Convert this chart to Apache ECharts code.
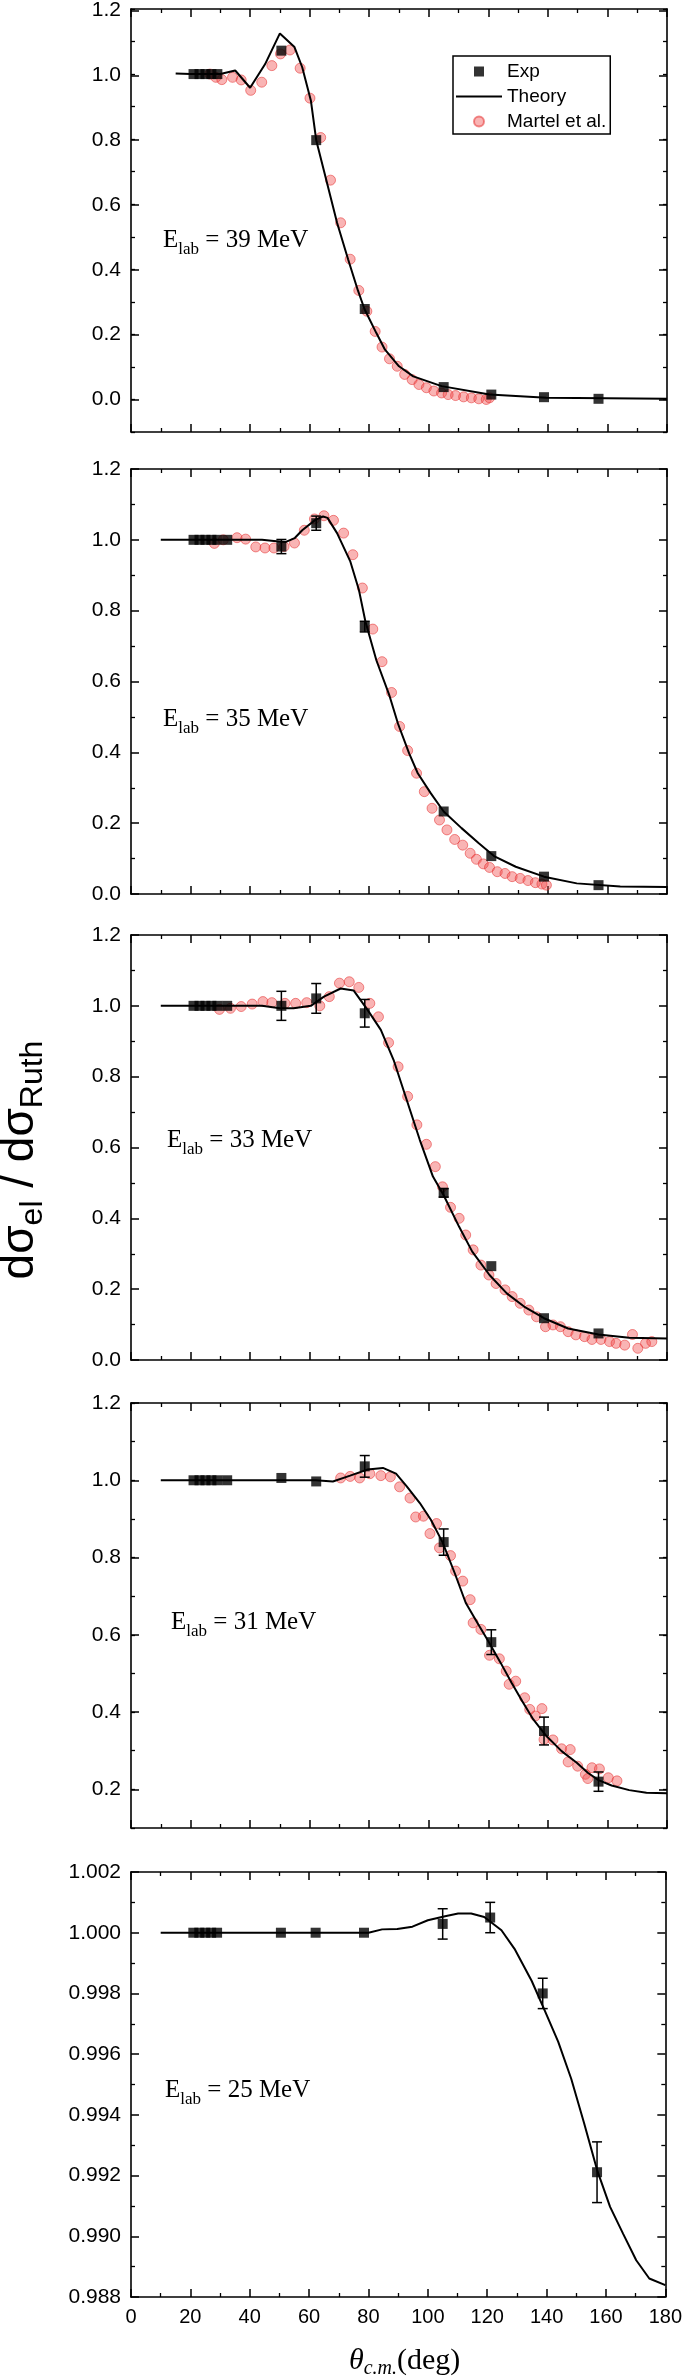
<!DOCTYPE html>
<html><head><meta charset="utf-8">
<script src="https://cdn.jsdelivr.net/npm/echarts@6/dist/echarts.min.js"></script>
<style>html,body{margin:0;padding:0;background:#fff}#c{width:685px;height:2379px}</style>
</head><body><div id="c"></div>
<script>
// ---------------- DATA ----------------
const energies = [39, 35, 33, 31, 25];

const expAnglesA = [21,23,25,27,29,50.5,62.2,78.5,105,121,138.7,157];          // 39 & 25 MeV
const expAnglesB = [21,23,25,27,29,32.3,50.5,62.2,78.5,105,121,138.7,157];     // 35, 33, 31 MeV

const exp39 = [1,1,1,1,1,1.072,0.797,0.278,0.038,0.015,0.007,0.002];
const err39 = [0,0,0,0,0,0,0,0,0,0,0,0];
const exp35 = [1,1,1,1,1,1.0,0.981,1.047,0.755,0.233,0.107,0.049,0.025];
const err35 = [0,0,0,0,0,0,0.02,0.02,0.015,0,0,0,0];
const exp33 = [1,1,1,1,1,1,1.0,1.021,0.979,0.472,0.265,0.118,0.075];
const err33 = [0,0,0,0,0,0,0.041,0.042,0.039,0.012,0,0,0];
const exp31 = [1,1,1,1,1,1,1.006,0.997,1.036,0.84,0.581,0.351,0.22];
const err31 = [0,0,0,0,0,0,0,0,0.028,0.034,0.032,0.036,0.025];
const exp25 = [1,1,1,1,1,1,1,1,1.00029,1.0005,0.998,0.99211];
const err25 = [0,0,0,0,0,0,0,0,0.0005,0.0005,0.0005,0.001];

const theory39Angles = [15,20,25,30,35,40,45,50,54.9,57.5,60.4,62.2,65.6,69.2,72.9,76.2,78.4,82.4,85.3,90,94.8,104.3,120.4,139.5,180];
const theory39Values = [1.002,1.0,1.0,1.0,1.011,0.958,1.03,1.125,1.083,1.021,0.919,0.797,0.674,0.543,0.431,0.335,0.278,0.204,0.153,0.102,0.071,0.041,0.015,0.005,0.002];
const theory35Angles = [10,30,44,48,52,55,57.5,62,64.5,66,69.2,73.6,76.5,78.7,82.4,86.8,89.7,93.4,96.3,100.7,105,111,116.8,121.9,129.2,138.7,149.7,164.3,180];
const theory35Values = [1.0,1.0,1.0,0.997,0.994,1.005,1.027,1.057,1.066,1.062,1.019,0.94,0.86,0.77,0.66,0.56,0.48,0.397,0.341,0.284,0.233,0.186,0.143,0.107,0.077,0.049,0.030,0.021,0.020];
const theory33Angles = [10,30,44,50,54.6,60.4,64.8,70.4,74.8,79.5,83.9,88.2,92.6,97,101.4,105,110.2,114.6,120.4,126.2,132,138.7,146.8,157,167.3,180];
const theory33Values = [1.0,1.0,1.0,0.993,0.993,1.0,1.026,1.049,1.043,0.988,0.932,0.847,0.734,0.621,0.518,0.465,0.376,0.306,0.24,0.188,0.151,0.118,0.089,0.072,0.063,0.061];
const theory31Angles = [10,30,50,62,67.8,73.6,79.5,84.6,89,92.6,97,100.7,104.6,108.7,112.4,116.3,120.2,124.1,127.8,131.4,135.1,139.5,144.6,149.7,153.4,157,161.4,167.3,173.1,180];
const theory31Values = [1.0,1.0,1.0,1.0,0.997,1.012,1.028,1.032,1.017,0.984,0.941,0.898,0.84,0.76,0.683,0.631,0.581,0.528,0.476,0.428,0.381,0.338,0.299,0.269,0.243,0.224,0.21,0.198,0.191,0.19];
const theory25Angles = [10,20,40,60,80,84.6,89.7,94.8,100,105.8,110.2,114.6,119,124.8,129.2,135,139.5,143.9,148.3,152.6,157,161.4,165.8,170.2,174.6,180];
const theory25Values = [1,1,1,1,1,1.00011,1.00012,1.0002,1.00041,1.00054,1.00063,1.00063,1.00052,1.00008,0.99947,0.99841,0.99741,0.99641,0.99519,0.99374,0.99219,0.99097,0.99008,0.98921,0.98861,0.98839];

const martel39Angles = [26.5,28.5,30.5,34.1,37,40.2,43.9,47.3,50.2,53.4,56.8,60.1,63.7,67,70.4,73.6,76.5,79.2,82,84.3,86.8,89.4,91.9,94.4,96.7,99.2,101.7,104.3,106.5,109,111.7,114.3,116.8,119.3,120.4];
const martel39Values = [1.0,0.99,0.983,0.99,0.982,0.95,0.975,1.026,1.062,1.074,1.018,0.926,0.805,0.674,0.543,0.431,0.335,0.271,0.209,0.161,0.125,0.102,0.077,0.061,0.046,0.036,0.026,0.02,0.015,0.012,0.008,0.005,0.002,0.0,0.005];
const martel35Angles = [28,31,35.6,38.5,41.9,45,48,51.4,54.9,58.2,61.6,64.8,68,71.4,74.5,77.7,81.2,84.3,87.5,90.2,92.9,95.9,98.5,101.1,103.6,106.1,108.7,111.4,113.9,116,118.3,120.4,123,125.6,128,130.7,133.3,135.8,138,139.5];
const martel35Values = [0.99,1.0,1.006,1.002,0.98,0.977,0.977,0.981,0.991,1.027,1.059,1.068,1.055,1.019,0.958,0.864,0.748,0.656,0.569,0.473,0.405,0.341,0.289,0.242,0.209,0.181,0.154,0.138,0.115,0.098,0.085,0.075,0.063,0.058,0.049,0.044,0.038,0.032,0.028,0.025];
const martel33Angles = [29.7,33.4,37,40.7,44.3,47.3,51.7,55.3,59,63.4,66.6,70,73.3,76.5,80.2,83.1,86.5,89.7,92.9,96,99.2,102.2,104.6,107.3,110.2,112.4,114.9,117.5,120.2,122.6,125.6,128,130.7,133.6,136.2,139.2,141.7,144.2,146.8,149.4,152.3,154.8,157.8,160.7,162.9,165.8,168.4,170.2,172.8,174.9];
const martel33Values = [0.99,0.993,0.998,1.005,1.012,1.009,1.007,1.007,1.009,1.0,1.026,1.064,1.068,1.052,1.007,0.969,0.896,0.828,0.744,0.664,0.609,0.546,0.489,0.431,0.4,0.353,0.311,0.268,0.24,0.216,0.198,0.179,0.16,0.141,0.122,0.094,0.099,0.094,0.08,0.071,0.066,0.058,0.058,0.052,0.047,0.042,0.072,0.033,0.047,0.052];
const martel31Angles = [70.4,73.6,76.8,80.2,83.9,87.1,90.2,93.7,95.6,98.2,100.4,102.6,103.6,107.3,109,111.4,113.9,114.9,117.5,120.4,123.7,126,127,129.2,132.2,133.9,135.8,138,138.7,141.7,144.6,147.5,146.8,150,152.6,154.8,157.3,153.4,160.3,163.2];
const martel31Values = [1.006,1.01,1.006,1.017,1.012,1.009,0.983,0.954,0.905,0.907,0.862,0.888,0.825,0.805,0.765,0.739,0.691,0.631,0.614,0.547,0.538,0.506,0.472,0.48,0.437,0.407,0.39,0.409,0.329,0.328,0.305,0.303,0.271,0.26,0.239,0.256,0.253,0.228,0.23,0.222];

const xTicks = {min: 0, max: 180, interval: 20};

// ---------------- LAYOUT ----------------
const panels = [
  {e: 39, expA: expAnglesA, exp: exp39, err: err39, thA: theory39Angles, th: theory39Values, mA: martel39Angles, m: martel39Values,
   top: 9, height: 423, min: -0.1, max: 1.2, overlay: {min: 0, max: 1.2, frac: 1.2/1.3}, dec: 1, lab: {left: 163, top: 222}},
  {e: 35, expA: expAnglesB, exp: exp35, err: err35, thA: theory35Angles, th: theory35Values, mA: martel35Angles, m: martel35Values,
   top: 469, height: 425, min: 0, max: 1.2, interval: 0.2, dec: 1, lab: {left: 163, top: 701}},
  {e: 33, expA: expAnglesB, exp: exp33, err: err33, thA: theory33Angles, th: theory33Values, mA: martel33Angles, m: martel33Values,
   top: 935, height: 425, min: 0, max: 1.2, interval: 0.2, dec: 1, lab: {left: 167, top: 1122}},
  {e: 31, expA: expAnglesB, exp: exp31, err: err31, thA: theory31Angles, th: theory31Values, mA: martel31Angles, m: martel31Values,
   top: 1403, height: 425, min: 0.1, max: 1.2, overlay: {min: 0.2, max: 1.2, frac: 1.0/1.1}, dec: 1, lab: {left: 171, top: 1604}},
  {e: 25, expA: expAnglesA, exp: exp25, err: err25, thA: theory25Angles, th: theory25Values, mA: null, m: null,
   top: 1872, height: 425, min: 0.988, max: 1.002, interval: 0.002, dec: 3, lab: {left: 165, top: 2072}}
];

const GL = 131, GR = 18;
const LINE = {color: '#000', width: 1.6};
const labelFont = {color: '#000', fontSize: 21, fontFamily: 'Liberation Sans'};

function zip(a, b) { return a.map((v, i) => [v, b[i]]); }

const grid = [], xAxis = [], yAxis = [], series = [], title = [];

function xAx(g, pos, showLabel, show) {
  return {type: 'value', gridIndex: g, position: pos, show: show !== false,
    min: xTicks.min, max: xTicks.max, interval: xTicks.interval,
    axisLine: {show: true, onZero: false, lineStyle: LINE},
    axisTick: {show: true, inside: true, length: 8, lineStyle: {color: '#000', width: 1.5}},
    minorTick: {show: true, splitNumber: 2, length: 4, lineStyle: {color: '#000', width: 1.3}},
    axisLabel: {show: showLabel, color: '#000', fontSize: 20, fontFamily: 'Liberation Sans', margin: 10},
    splitLine: {show: false}};
}
function yAx(g, pos, o) {
  return Object.assign({type: 'value', gridIndex: g, position: pos,
    axisLine: {show: true, onZero: false, lineStyle: LINE},
    axisTick: {show: true, inside: true, length: 8, lineStyle: {color: '#000', width: 1.5}},
    minorTick: {show: false},
    axisLabel: {show: false},
    splitLine: {show: false}}, o);
}

function renderErr(params, api) {
  const x = api.value(0), lo = api.value(1), hi = api.value(2);
  const p1 = api.coord([x, lo]), p2 = api.coord([x, hi]);
  const w = 5, st = {stroke: '#000', lineWidth: 1.5};
  return {type: 'group', children: [
    {type: 'line', shape: {x1: p1[0], y1: p1[1], x2: p2[0], y2: p2[1]}, style: st},
    {type: 'line', shape: {x1: p1[0] - w, y1: p1[1], x2: p1[0] + w, y2: p1[1]}, style: st},
    {type: 'line', shape: {x1: p2[0] - w, y1: p2[1], x2: p2[0] + w, y2: p2[1]}, style: st}]};
}

const serif = {fontFamily: 'Liberation Serif', color: '#000', fontWeight: 'normal'};

const overlays = [];
panels.forEach((p, i) => {
  const g = grid.length;
  grid.push({left: GL, right: GR, top: p.top, height: p.height});
  const xb = xAxis.length;
  xAxis.push(xAx(g, 'bottom', i === panels.length - 1));
  xAxis.push(xAx(g, 'top', false));
  const yl = yAxis.length;
  const fmt = v => v.toFixed(p.dec);
  if (p.overlay) {
    const yo = {min: p.min, max: p.max, interval: 0.1, axisTick: {show: true, inside: true, length: 4, lineStyle: {color: '#000', width: 1.3}}};
    yAxis.push(yAx(g, 'left', yo));
    yAxis.push(yAx(g, 'right', yo));
    overlays.push(p);
  } else {
    const yo = {min: p.min, max: p.max, interval: p.interval,
      minorTick: {show: true, splitNumber: 2, length: 4, lineStyle: {color: '#000', width: 1.3}}};
    yAxis.push(yAx(g, 'left', Object.assign({}, yo, {axisLabel: Object.assign({show: true, margin: 10, formatter: fmt}, labelFont)})));
    yAxis.push(yAx(g, 'right', yo));
  }
  if (p.m) {
    series.push({type: 'scatter', name: 'Martel et al.', xAxisIndex: xb, yAxisIndex: yl, data: zip(p.mA, p.m),
      symbol: 'circle', symbolSize: 10, z: 2,
      itemStyle: {color: 'rgba(240,75,75,0.52)', borderColor: 'rgba(228,40,40,0.65)', borderWidth: 1}});
  }
  series.push({type: 'line', name: 'Theory', xAxisIndex: xb, yAxisIndex: yl, data: zip(p.thA, p.th),
    symbol: 'none', showSymbol: false, smooth: false, z: 3, lineStyle: {color: '#000', width: 2}, itemStyle: {color: '#000'}});
  const errData = p.expA.map((a, k) => p.err[k] ? [a, p.exp[k] - p.err[k], p.exp[k] + p.err[k]] : null).filter(Boolean);
  series.push({type: 'custom', name: 'err', xAxisIndex: xb, yAxisIndex: yl, data: errData, renderItem: renderErr,
    encode: {x: 0, y: [1, 2]}, z: 4, silent: true});
  series.push({type: 'scatter', name: 'Exp', xAxisIndex: xb, yAxisIndex: yl, data: zip(p.expA, p.exp),
    symbol: 'rect', symbolSize: 10, z: 5, itemStyle: {color: '#000'}});

  title.push({text: '{e|E}{s|lab}{e| = ' + p.e + ' MeV}', left: p.lab.left, top: p.lab.top, padding: 0,
    textStyle: {fontWeight: 'normal', rich: {
      e: Object.assign({fontSize: 25}, serif),
      s: Object.assign({fontSize: 17, padding: [19, 0, 0, 0]}, serif)}}});
});

// overlay grids carrying the major ticks and labels where the axis min is not on the 0.2 grid
overlays.forEach(p => {
  const g = grid.length;
  grid.push({left: GL, right: GR, top: p.top, height: p.height * p.overlay.frac});
  xAxis.push({type: 'value', gridIndex: g, show: false, min: 0, max: 180});
  const yo = {min: p.overlay.min, max: p.overlay.max, interval: 0.2, axisLine: {show: false, onZero: false}};
  yAxis.push(yAx(g, 'left', Object.assign({}, yo, {axisLabel: Object.assign({show: true, margin: 10, formatter: v => v.toFixed(1)}, labelFont)})));
  yAxis.push(yAx(g, 'right', yo));
});

title.push({text: '{i|θ}{s|c.m.}{m|(deg)}', left: 349, top: 2344, padding: 0,
  textStyle: {fontWeight: 'normal', rich: {
    i: Object.assign({fontSize: 30, fontStyle: 'italic'}, serif),
    s: Object.assign({fontSize: 20, fontStyle: 'italic', padding: [15, 0, 0, 0]}, serif),
    m: Object.assign({fontSize: 30}, serif)}}});

const chart = echarts.init(document.getElementById('c'), null, {renderer: 'canvas'});
chart.setOption({
  animation: false,
  backgroundColor: '#fff',
  title: title,
  grid: grid, xAxis: xAxis, yAxis: yAxis, series: series,
  legend: {show: true, left: 453, top: 56, orient: 'vertical', itemWidth: 46, itemHeight: 10, itemGap: 6,
    padding: [6, 4, 3, 3], borderColor: '#000', borderWidth: 1.5, selectedMode: false,
    textStyle: {fontSize: 19, fontFamily: 'Liberation Sans', color: '#000'},
    data: [{name: 'Exp', icon: 'path://M0 0H10V10H0Z'},
           {name: 'Theory', icon: 'path://M0 0H23V1H0Z', itemStyle: {color: '#000'}},
           {name: 'Martel et al.', icon: 'circle'}]},
  graphic: [{type: 'text', x: 20, y: 1160, rotation: Math.PI / 2, silent: true,
    style: {text: '{m|dσ}{s|el}{m| / dσ}{s|Ruth}', align: 'center', verticalAlign: 'middle',
      textAlign: 'center', textVerticalAlign: 'middle', fill: '#000',
      rich: {m: {fontSize: 46, fontFamily: 'Liberation Sans', fill: '#000'},
             s: {fontSize: 32, fontFamily: 'Liberation Sans', fill: '#000', padding: [26, 0, 0, 0]}}}}]
});
</script></body></html>
